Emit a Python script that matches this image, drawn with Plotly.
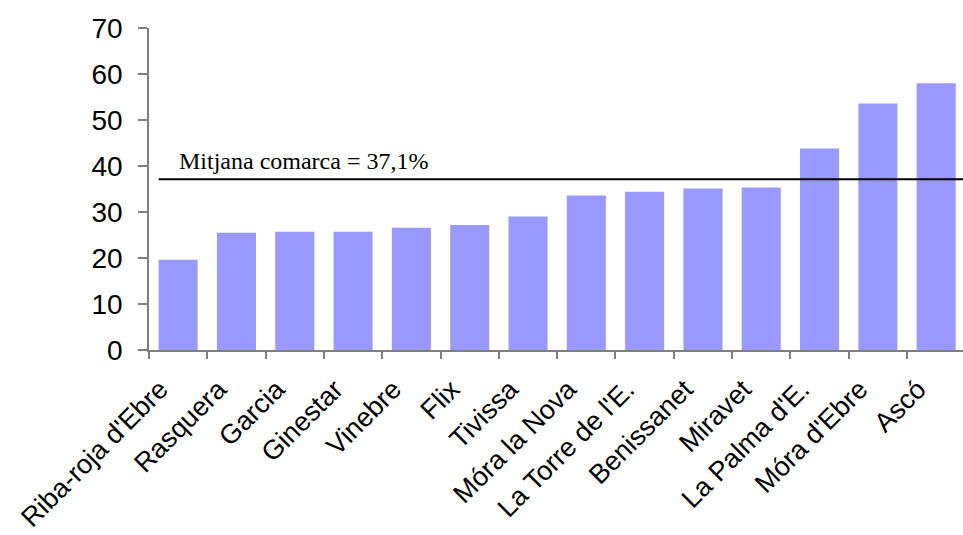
import plotly.graph_objects as go

# Municipalities of the comarca, sorted by value
municipis = [
    "Riba-roja d'Ebre", "Rasquera", "Garcia", "Ginestar", "Vinebre", "Flix",
    "Tivissa", "Móra la Nova", "La Torre de l'E.", "Benissanet", "Miravet",
    "La Palma d'E.", "Móra d'Ebre", "Ascó",
]
valors = [19.6, 25.5, 25.7, 25.7, 26.6, 27.2, 29.0, 33.6, 34.4, 35.1, 35.3, 43.8, 53.6, 58.0]

# Comarca average
mitjana = 37.1
mitjana_text = "Mitjana comarca = 37,1%"

y_ticks = [0, 10, 20, 30, 40, 50, 60, 70]

bar_width = 0.67
x_end = 13.46

fig = go.Figure()
fig.add_trace(go.Bar(
    x=municipis,
    y=valors,
    width=bar_width,
    marker=dict(color="#9999FF", line=dict(width=0)),
    hoverinfo="x+y",
))

# Average reference line, from the first bar to the right edge
fig.add_shape(
    type="line", xref="x", yref="y",
    x0=-bar_width / 2, x1=x_end, y0=mitjana, y1=mitjana,
    line=dict(color="black", width=2),
)
fig.add_annotation(
    text=mitjana_text, xref="x", yref="y",
    x=-0.02, y=mitjana, xanchor="left", yanchor="bottom", yshift=3,
    showarrow=False,
    font=dict(family="Liberation Serif, Times New Roman, serif", size=24, color="black"),
)

fig.update_layout(
    width=963, height=535,
    margin=dict(l=149, r=0, t=28, b=185),
    paper_bgcolor="white", plot_bgcolor="white",
    showlegend=False,
    font=dict(family="Liberation Sans, Arial, sans-serif", color="black"),
)
fig.update_xaxes(
    type="category",
    range=[-0.5, x_end],
    tickangle=-45,
    tickfont=dict(size=27),
    ticklabelstandoff=11,
    ticklabelshift=-18,
    showline=True, linecolor="#7f7f7f", linewidth=1.5,
    ticks="outside", tickson="boundaries", ticklen=7, tickcolor="#7f7f7f", tickwidth=1.5,
    showgrid=False, zeroline=False,
    automargin=False,
)
fig.update_yaxes(
    range=[0, 70],
    tickvals=y_ticks,
    tickfont=dict(size=28),
    showline=True, linecolor="#7f7f7f", linewidth=1.5,
    ticks="outside", ticklen=9, tickcolor="#7f7f7f", tickwidth=1.5,
    ticklabelstandoff=10,
    showgrid=False, zeroline=False,
    automargin=False,
)

fig.write_html("out.html")
